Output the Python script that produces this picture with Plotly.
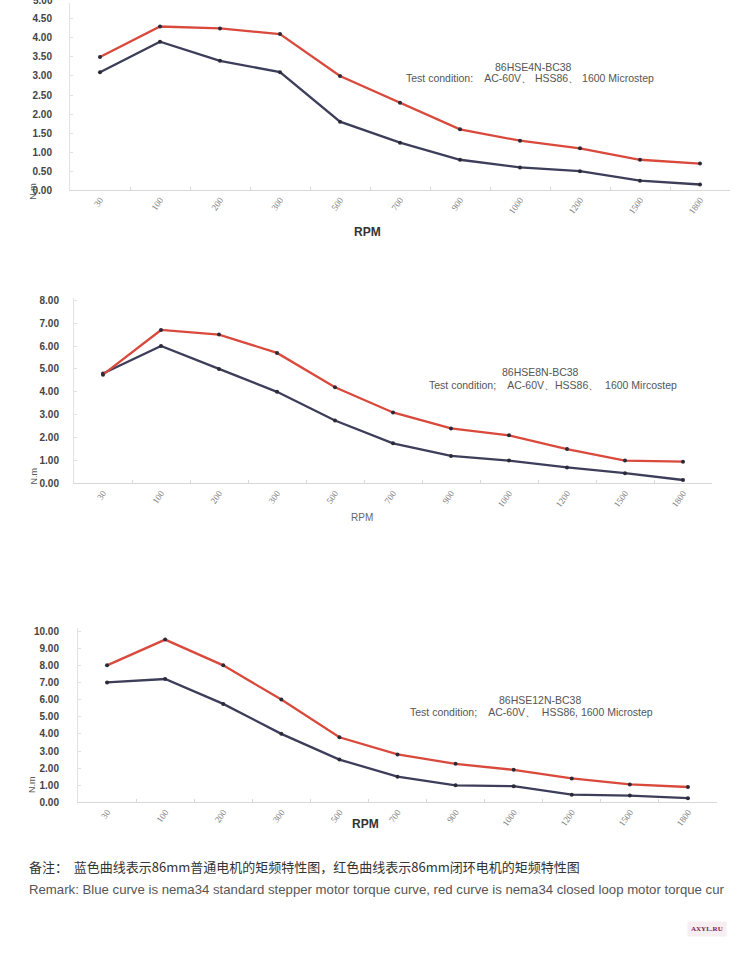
import plotly.graph_objects as go

rpm = ["30", "100", "200", "300", "500", "700", "900", "1000", "1200", "1500", "1800"]

red1 = [3.5, 4.3, 4.25, 4.1, 3.0, 2.3, 1.6, 1.3, 1.1, 0.8, 0.7]
blue1 = [3.1, 3.9, 3.4, 3.1, 1.8, 1.25, 0.8, 0.6, 0.5, 0.25, 0.15]

red2 = [4.75, 6.7, 6.5, 5.7, 4.2, 3.1, 2.4, 2.1, 1.5, 1.0, 0.95]
blue2 = [4.8, 6.0, 5.0, 4.0, 2.75, 1.75, 1.2, 1.0, 0.7, 0.45, 0.15]

red3 = [8.0, 9.5, 8.0, 6.0, 3.8, 2.8, 2.25, 1.9, 1.4, 1.05, 0.9]
blue3 = [7.0, 7.2, 5.75, 4.0, 2.5, 1.5, 1.0, 0.95, 0.45, 0.4, 0.25]

ticks1 = [0, 0.5, 1.0, 1.5, 2.0, 2.5, 3.0, 3.5, 4.0, 4.5]
ticks2 = [0, 1, 2, 3, 4, 5, 6, 7, 8]
ticks3 = [0, 1, 2, 3, 4, 5, 6, 7, 8, 9, 10]

models = ["86HSE4N-BC38", "86HSE8N-BC38", "86HSE12N-BC38"]
conds = ["Test condition:    AC-60V\u3001 HSS86\u3001 1600 Microstep",
         "Test condition;    AC-60V\u3001HSS86\u3001  1600 Mircostep",
         "Test condition;    AC-60V\u3001  HSS86, 1600 Microstep"]

W, H = 750, 959
RED = "#d9493c"
BLUE = "#3c3e5a"
DOT = "#2b2b38"
YFONT = "Liberation Sans"

panels = [
    dict(x0=70, x1=730, yb=189, yt=0, ymax=189 / 38.44, so=15, ticks=ticks1),
    dict(x0=74, x1=712, yb=485, yt=297.7, ymax=8.1, so=12, ticks=ticks2),
    dict(x0=78, x1=717, yb=807, yt=631.4, ymax=10.15, so=16, ticks=ticks3),
]
reds = [red1, red2, red3]
blues = [blue1, blue2, blue3]

fig = go.Figure()
layout = dict(width=W, height=H, margin=dict(l=0, r=0, t=0, b=0),
              paper_bgcolor="white", plot_bgcolor="white", showlegend=False)

for i, p in enumerate(panels):
    sfx = "" if i == 0 else str(i + 1)
    for vals, col in [(blues[i], BLUE), (reds[i], RED)]:
        fig.add_trace(go.Scatter(
            x=rpm, y=vals, mode="lines+markers",
            line=dict(color=col, width=2.3),
            marker=dict(color=DOT, size=4),
            xaxis="x" + sfx, yaxis="y" + sfx))
    layout["xaxis" + sfx] = dict(
        domain=[p["x0"] / W, p["x1"] / W], anchor="y" + sfx,
        type="category", range=[-0.5, 10.5], tickangle=-55,
        tickfont=dict(family="Liberation Serif", size=9, color="#808080"),
        showline=True, linecolor="#d8d8d8", linewidth=1,
        ticks="inside", ticklen=3, tickcolor="#d8d8d8", tickson="boundaries",
        showgrid=False, zeroline=False, fixedrange=True)
    layout["yaxis" + sfx] = dict(
        domain=[1 - p["yb"] / H, 1 - p["yt"] / H], anchor="x" + sfx,
        range=[0, p["ymax"]], tickvals=p["ticks"], tickformat=".2f",
        tickfont=dict(family=YFONT, size=10, color="#444", weight="bold"),
        showline=True, linecolor="#e2e2e2", linewidth=1,
        ticks="inside", ticklen=3, tickcolor="#e2e2e2",
        ticklabelstandoff=p["so"],
        showgrid=False, zeroline=False, fixedrange=True)

ann = []
model_pos = [(533, 65, 404, 76), (540, 372, 427, 386), (540, 704, 408, 716)]
for i, (mx, my, cx, cy) in enumerate(model_pos):
    ann.append(dict(text=models[i], x=mx / W, y=1 - my / H, xref="paper", yref="paper",
                    showarrow=False, xanchor="center", yanchor="middle",
                    font=dict(family="Liberation Sans", size=10.5, color="#555")))
    ann.append(dict(text=conds[i], x=cx / W, y=1 - cy / H, xref="paper", yref="paper",
                    showarrow=False, xanchor="left", yanchor="middle",
                    font=dict(family="Liberation Sans", size=10.5, color="#555")))

for (x, y, bold) in [(367, 222, True), (362, 519, False), (365, 838, True)]:
    ann.append(dict(text="<b>RPM</b>" if bold else "RPM", x=x / W, y=1 - y / H,
                    xref="paper", yref="paper", showarrow=False,
                    font=dict(family="Liberation Sans", size=12 if bold else 10,
                              color="#333" if bold else "#666")))
for (x, y) in [(26, 180), (27, 478), (25, 800)]:
    ann.append(dict(text="N.m", x=x / W, y=1 - y / H, xref="paper", yref="paper",
                    showarrow=False, textangle=-90,
                    font=dict(family=YFONT, size=9, color="#555")))
ann.append(dict(text="<b>5.00</b>", x=55 / W, y=1 + 3 / H, xref="paper", yref="paper",
                showarrow=False, xanchor="right", yanchor="middle",
                font=dict(family=YFONT, size=10, color="#444")))

ann.append(dict(text="备注：  蓝色曲线表示86mm普通电机的矩频特性图，红色曲线表示86mm闭环电机的矩频特性图",
                x=27 / W, y=1 - 872 / H, xref="paper", yref="paper", showarrow=False,
                xanchor="left", yanchor="middle",
                font=dict(family="Noto Sans CJK SC", size=13, color="#333")))
ann.append(dict(text="Remark: Blue curve is nema34 standard stepper motor torque curve, red curve is nema34 closed loop motor torque cur",
                x=27 / W, y=1 - 895 / H, xref="paper", yref="paper", showarrow=False,
                xanchor="left", yanchor="middle",
                font=dict(family="Liberation Sans", size=13.2, color="#555")))
ann.append(dict(text="<b>AXYL.RU</b>", x=727 / W, y=1 - 943 / H, xref="paper", yref="paper",
                showarrow=False, bgcolor="#f6eef1", borderpad=3,
                font=dict(family="Liberation Serif", size=7, color="#7a2848")))

layout["annotations"] = ann
fig.update_layout(**layout)
fig.write_html("out.html")
